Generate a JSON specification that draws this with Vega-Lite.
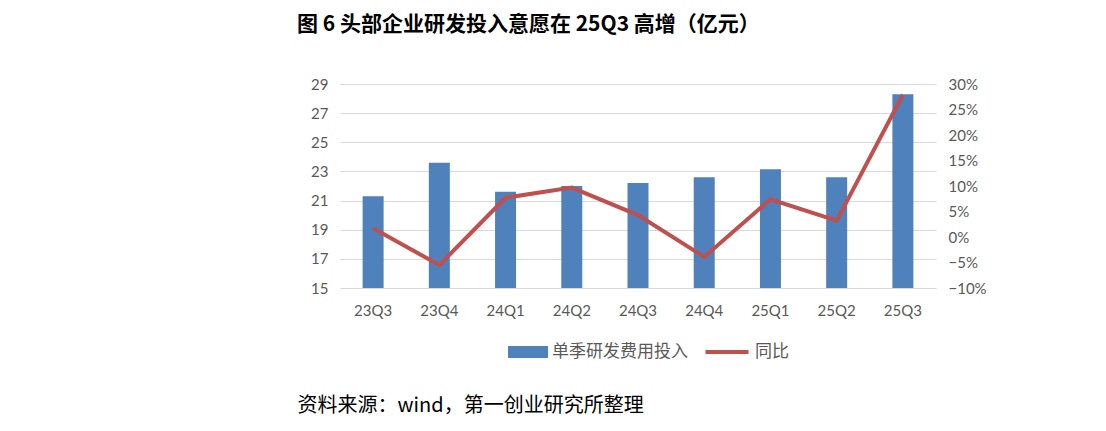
{
  "$schema": "https://vega.github.io/schema/vega-lite/v6.json",
  "autosize": "none",
  "width": 596,
  "height": 204,
  "padding": {"left": 340, "top": 84, "right": 170, "bottom": 143},
  "background": "white",
  "title": {
    "text": "图 6 头部企业研发投入意愿在 25Q3 高增（亿元）",
    "anchor": "start",
    "frame": "group",
    "dx": -43,
    "offset": 42,
    "font": "Noto Sans CJK SC",
    "fontSize": 21,
    "fontWeight": "bold",
    "color": "#000000"
  },
  "config": {
    "view": {"stroke": null},
    "axis": {
      "domain": false,
      "ticks": false,
      "labelFont": "Lato",
      "labelFontSize": 15,
      "labelColor": "#595959"
    },
    "legend": {
      "labelFont": "Noto Sans CJK SC",
      "labelFontSize": 17,
      "labelColor": "#595959",
      "title": null
    }
  },
  "data": {
    "values": [
      {"quarter": "23Q3", "spend": 21.3, "yoy": 0.017},
      {"quarter": "23Q4", "spend": 23.6, "yoy": -0.055},
      {"quarter": "24Q1", "spend": 21.6, "yoy": 0.077},
      {"quarter": "24Q2", "spend": 22.0, "yoy": 0.097},
      {"quarter": "24Q3", "spend": 22.2, "yoy": 0.043},
      {"quarter": "24Q4", "spend": 22.6, "yoy": -0.039},
      {"quarter": "25Q1", "spend": 23.15, "yoy": 0.074},
      {"quarter": "25Q2", "spend": 22.6, "yoy": 0.032},
      {"quarter": "25Q3", "spend": 28.3, "yoy": 0.279}
    ]
  },
  "encoding": {
    "x": {
      "field": "quarter",
      "type": "nominal",
      "sort": null,
      "scale": {"paddingInner": 0, "paddingOuter": 0},
      "axis": {
        "labelAngle": 0,
        "labelPadding": 15,
        "title": "资料来源：wind，第一创业研究所整理",
        "titleFont": "Noto Sans CJK SC",
        "titleFontSize": 20,
        "titleFontWeight": "normal",
        "titleColor": "#000000",
        "titleX": -43,
        "titleY": 117,
        "titleAlign": "left",
        "titleBaseline": "middle",
        "titleAngle": 0
      }
    }
  },
  "layer": [
    {
      "mark": {"type": "bar", "width": 21, "clip": true},
      "encoding": {
        "y": {
          "field": "spend",
          "type": "quantitative",
          "scale": {"domain": [15, 29], "nice": false, "zero": false},
          "axis": {
            "title": null,
            "values": [15, 17, 19, 21, 23, 25, 27, 29],
            "grid": true,
            "gridColor": "#d9d9d9",
            "labelPadding": 12
          }
        },
        "fill": {
          "datum": "单季研发费用投入",
          "scale": {"range": ["#4f81bd"]},
          "legend": {
            "orient": "none",
            "legendX": 168,
            "legendY": 248,
            "symbolType": "M-1,-0.3H1V0.3H-1Z",
            "symbolSize": 1600,
            "symbolStrokeWidth": 0
          }
        }
      }
    },
    {
      "mark": {"type": "line", "strokeWidth": 4},
      "encoding": {
        "y": {
          "field": "yoy",
          "type": "quantitative",
          "scale": {"domain": [-0.1, 0.3], "nice": false, "zero": false},
          "axis": {
            "orient": "right",
            "title": null,
            "format": ".0%",
            "values": [-0.1, -0.05, 0, 0.05, 0.1, 0.15, 0.2, 0.25, 0.3],
            "grid": false,
            "labelPadding": 12
          }
        },
        "stroke": {
          "datum": "同比",
          "scale": {"range": ["#c0504d"]},
          "legend": {
            "orient": "none",
            "legendX": 363,
            "legendY": 244,
            "symbolType": "stroke",
            "symbolSize": 1850,
            "symbolStrokeWidth": 4
          }
        }
      }
    }
  ],
  "resolve": {"scale": {"y": "independent"}}
}
